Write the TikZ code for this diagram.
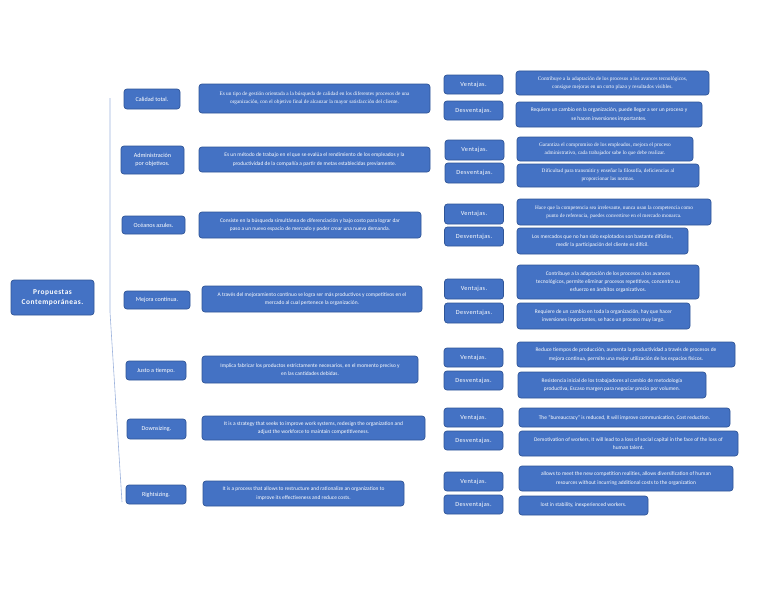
\documentclass[tikz,border=0pt]{standalone}
\usepackage{fontspec}
\setmainfont{Carlito}
\newfontfamily\serifx{Liberation Serif}
\definecolor{blue1}{HTML}{4472C4}
\definecolor{bord}{HTML}{2F5597}
\definecolor{linec}{HTML}{9DB3DD}
\begin{document}
\begin{tikzpicture}[x=1pt,y=-1pt,
  box/.style={draw=bord, fill=blue1, rounded corners=3pt, line width=0.7pt, text=white, align=center, inner sep=1pt},
  small/.style={font=\fontsize{5.45}{8.3}\selectfont},
  smallserif/.style={font={\serifx\fontsize{5.3}{8.3}\selectfont}},
  cat/.style={font=\fontsize{6.1}{8.3}\selectfont},
  vt/.style={font={\fontsize{6.3}{8}\selectfont\addfontfeatures{LetterSpace=6}}, minimum width=59pt},
  rootst/.style={font={\fontsize{7.4}{10}\bfseries\addfontfeatures{LetterSpace=7}}}
]
\useasboundingbox[fill=white] (0,0) rectangle (768,594);

% spine line
\coordinate (l1) at (110,98);
\coordinate (l2) at (110,312);
\coordinate (l3) at (122,502);
\draw[linec, line width=0.6pt] (l1) -- (l2) -- (l3);

% root
\node[box, rootst, minimum width=83pt, minimum height=35pt] (root) at (52.5,297.5) {Propuestas\\Contemporáneas.};

% categories
\node[box, cat, minimum width=56pt, minimum height=20pt] (c1) at (152,99) {Calidad total.};
\node[box, cat, minimum width=63pt, minimum height=28pt] (c2) at (152.5,160) {Administración\\por objetivos.};
\node[box, cat, minimum width=63pt, minimum height=18pt] (c3) at (153.5,225) {Océanos azules.};
\node[box, cat, minimum width=66pt, minimum height=18pt] (c4) at (157,300) {Mejora continua.};
\node[box, cat, minimum width=60pt, minimum height=19pt] (c5) at (156,370.5) {Justo a tiempo.};
\node[box, cat, minimum width=59pt, minimum height=20pt] (c6) at (156.5,429) {Downsizing.};
\node[box, cat, minimum width=60pt, minimum height=19pt] (c7) at (156,494.5) {Rightsizing.};

% definitions
\node[box, smallserif, minimum width=231pt, minimum height=29pt] (d1) at (314.5,98.5) {Es un tipo de gestión orientada a la búsqueda de calidad en los diferentes procesos de una\\organización, con el objetivo final de alcanzar la mayor satisfacción del cliente.};
\node[box, small, minimum width=231pt, minimum height=25pt] (d2) at (314.5,159.5) {Es un método de trabajo en el que se evalúa el rendimiento de los empleados y la\\productividad de la compañía a partir de metas establecidas previamente.};
\node[box, small, minimum width=222pt, minimum height=26pt] (d3) at (310,225) {Consiste en la búsqueda simultánea de diferenciación y bajo costo para lograr dar\\paso a un nuevo espacio de mercado y poder crear una nueva demanda.};
\node[box, small, minimum width=220pt, minimum height=26pt] (d4) at (312,299) {A través del mejoramiento continuo se logra ser más productivos y competitivos en el\\mercado al cual pertenece la organización.};
\node[box, small, minimum width=216pt, minimum height=27pt] (d5) at (310,369.5) {Implica fabricar los productos estrictamente necesarios, en el momento preciso y\\en las cantidades debidas.};
\node[box, small, minimum width=223pt, minimum height=24pt] (d6) at (313.5,428) {It is a strategy that seeks to improve work systems, redesign the organization and\\adjust the workforce to maintain competitiveness.};
\node[box, small, minimum width=201pt, minimum height=25pt] (d7) at (303.5,493.5) {It is a process that allows to restructure and rationalize an organization to\\improve its effectiveness and reduce costs.};

% ventajas / desventajas
\node[box, vt, minimum height=19pt] (v1) at (473.5,84.5) {Ventajas.};
\node[box, vt, minimum height=19pt] (w1) at (473.5,110.5) {Desventajas.};
\node[box, vt, minimum height=20pt] (v2) at (474.5,150) {Ventajas.};
\node[box, vt, minimum height=20pt] (w2) at (474.5,173) {Desventajas.};
\node[box, vt, minimum height=20pt] (v3) at (474,214) {Ventajas.};
\node[box, vt, minimum height=19pt] (w3) at (474,236.5) {Desventajas.};
\node[box, vt, minimum height=20pt] (v4) at (474,289) {Ventajas.};
\node[box, vt, minimum height=20pt] (w4) at (474,313) {Desventajas.};
\node[box, vt, minimum height=19pt] (v5) at (473.5,357.5) {Ventajas.};
\node[box, vt, minimum height=19pt] (w5) at (473.5,380.5) {Desventajas.};
\node[box, vt, minimum height=19pt] (v6) at (473.5,417.5) {Ventajas.};
\node[box, vt, minimum height=19pt] (w6) at (473.5,440.5) {Desventajas.};
\node[box, vt, minimum height=19pt] (v7) at (473.5,481.5) {Ventajas.};
\node[box, vt, minimum height=19pt] (w7) at (473.5,504.5) {Desventajas.};

% right texts
\node[box, smallserif, minimum width=193pt, minimum height=24pt] (r1v) at (612.5,83) {Contribuye a la adaptación de los procesos a los avances tecnológicos,\\consigue mejoras en un corto plazo y resultados visibles.};
\node[box, small, minimum width=186pt, minimum height=25pt] (r1d) at (609,114.5) {Requiere un cambio en la organización, puede llegar a ser un proceso y\\se hacen inversiones importantes.};
\node[box, smallserif, minimum width=176pt, minimum height=24pt] (r2v) at (605,149) {Garantiza el compromiso de los empleados, mejora el proceso\\administrativo, cada trabajador sabe lo que debe realizar.};
\node[box, smallserif, minimum width=182pt, minimum height=23pt] (r2d) at (608,175.5) {Dificultad para transmitir y enseñar la filosofía, deficiencias al\\proporcionar las normas.};
\node[box, smallserif, minimum width=194pt, minimum height=26pt] (r3v) at (614,212) {Hace que la competencia sea irrelevante, nunca usan la competencia como\\punto de referencia, puedes convertirse en el mercado monarca.};
\node[box, small, minimum width=171pt, minimum height=26pt] (r3d) at (602.5,241) {Los mercados que no han sido explotados son bastante difíciles,\\medir la participación del cliente es difícil.};
\node[box, small, minimum width=182pt, minimum height=34pt] (r4v) at (608,282) {Contribuye a la adaptación de los procesos a los avances\\tecnológicos, permite eliminar procesos repetitivos, concentra su\\esfuerzo en ámbitos organizativos.};
\node[box, small, minimum width=173pt, minimum height=26pt] (r4d) at (603.5,316) {Requiere de un cambio en toda la organización, hay que hacer\\inversiones importantes, se hace un proceso muy largo.};
\node[box, small, minimum width=218pt, minimum height=25pt] (r5v) at (626,354.5) {Reduce tiempos de producción, aumenta la productividad a través de procesos de\\mejora continua, permite una mejor utilización de los espacios físicos.};
\node[box, small, minimum width=188pt, minimum height=26pt] (r5d) at (612,385) {Resistencia inicial de los trabajadores al cambio de metodología\\productiva, Escaso margen para negociar precio por volumen.};
\node[box, small, minimum width=211pt, minimum height=19pt] (r6v) at (624.5,417.5) {The ``bureaucracy'' is reduced, It will improve communication, Cost reduction.};
\node[box, small, minimum width=219pt, minimum height=25pt] (r6d) at (628.5,443.5) {Demotivation of workers, It will lead to a loss of social capital in the face of the loss of\\human talent.};
\node[box, small, minimum width=214pt, minimum height=25pt] (r7v) at (626,478.5) {allows to meet the new competition realities, allows diversification of human\\resources without incurring additional costs to the organization};
\node[box, small, minimum width=129pt, minimum height=19pt] (r7d) at (583.5,505.5) {lost in stability, inexperienced workers.};
\end{tikzpicture}
\end{document}
